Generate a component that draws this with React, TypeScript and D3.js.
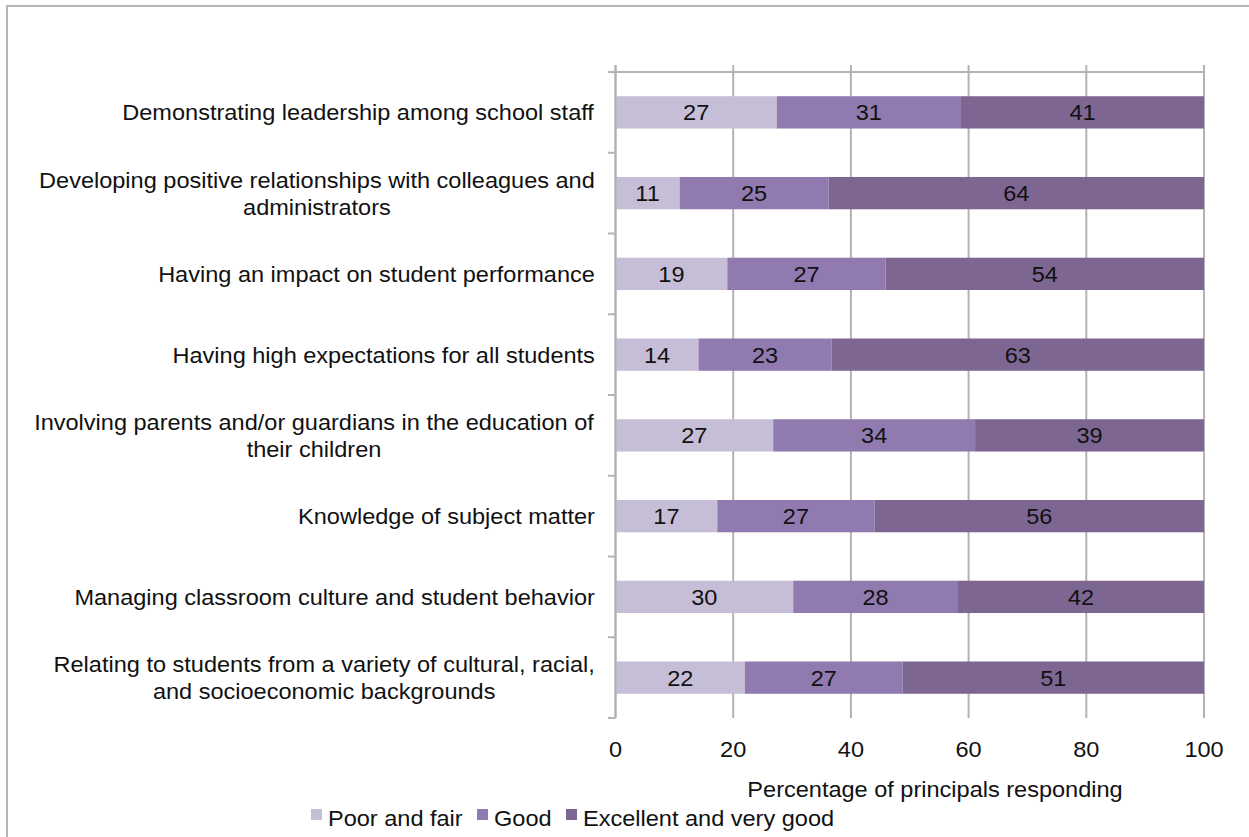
import React, { useEffect, useRef } from "react";
import * as d3 from "d3";

const categories: string[][] = [
  ["Demonstrating leadership among school staff"],
  ["Developing positive relationships with colleagues and", "administrators"],
  ["Having an impact on student performance"],
  ["Having high expectations for all students"],
  ["Involving parents and/or guardians in the education of", "their children"],
  ["Knowledge of subject matter"],
  ["Managing classroom culture and student behavior"],
  ["Relating to students from a variety of cultural, racial,", "and socioeconomic backgrounds"],
];
const poorFair = [27.4, 10.9, 19.0, 14.1, 26.8, 17.3, 30.2, 22.0];
const good = [31.3, 25.3, 26.9, 22.6, 34.3, 26.7, 28.0, 26.8];
const excellent = [41.3, 63.8, 54.1, 63.3, 38.9, 56.0, 41.8, 51.2];
const seriesNames = ["Poor and fair", "Good", "Excellent and very good"];
const seriesColors = ["#C6BED6", "#907AAF", "#7E6693"];
const xTicks = [0, 20, 40, 60, 80, 100];
const xTitle = "Percentage of principals responding";

const W = 1249;
const H = 837;
const FONT = "'Liberation Sans', Arial, sans-serif";
const SX = 1.07;

export default function App() {
  const ref = useRef<SVGSVGElement>(null);

  useEffect(() => {
    const svg = d3.select(ref.current);
    svg.selectAll("*").remove();

    const x = d3.scaleLinear().domain([0, 100]).range([615.5, 1204]);
    const y = d3
      .scaleBand<number>()
      .domain(d3.range(categories.length))
      .range([72, 718])
      .paddingInner(0.6)
      .paddingOuter(0.3);
    const step = y.step();
    const yStart = 72;

    const txt = (
      parent: any,
      tx: number,
      ty: number,
      s: string,
      anchor: string = "start"
    ) =>
      parent
        .append("text")
        .attr("transform", `translate(${tx},${ty}) scale(${SX},1)`)
        .attr("text-anchor", anchor)
        .attr("font-family", FONT)
        .attr("font-size", 22)
        .attr("fill", "#111")
        .text(s);

    // frame
    svg
      .append("path")
      .attr("d", `M7,${H} V6 H${W}`)
      .attr("fill", "none")
      .attr("stroke", "#b5b5b5")
      .attr("stroke-width", 2);

    const grid = "#b3b3b3";
    // vertical gridlines
    svg
      .append("g")
      .selectAll("line")
      .data(xTicks)
      .join("line")
      .attr("x1", (d) => x(d))
      .attr("x2", (d) => x(d))
      .attr("y1", 65)
      .attr("y2", 718)
      .attr("stroke", grid)
      .attr("stroke-width", 2);

    // top horizontal axis line
    svg
      .append("line")
      .attr("x1", 608)
      .attr("x2", x(100))
      .attr("y1", yStart)
      .attr("y2", yStart)
      .attr("stroke", grid)
      .attr("stroke-width", 2);

    // left axis ticks at category boundaries
    svg
      .append("g")
      .selectAll("line")
      .data(d3.range(categories.length + 1))
      .join("line")
      .attr("x1", 608)
      .attr("x2", x(0))
      .attr("y1", (i) => yStart + i * step)
      .attr("y2", (i) => yStart + i * step)
      .attr("stroke", grid)
      .attr("stroke-width", 2);

    // stacked bars
    const series = [poorFair, good, excellent];
    const rows = categories.map((_, i) => ({
      i,
      v: series.map((s) => s[i]),
    }));
    const stack = d3
      .stack<any, number>()
      .keys([0, 1, 2])
      .value((d, k) => d.v[k]);
    const stacked = stack(rows);

    stacked.forEach((layer, k) => {
      const g = svg.append("g");
      g.selectAll("rect")
        .data(layer)
        .join("rect")
        .attr("x", (d) => x(d[0]))
        .attr("width", (d) => x(d[1]) - x(d[0]))
        .attr("y", (d) => y(d.data.i)!)
        .attr("height", y.bandwidth())
        .attr("fill", seriesColors[k]);
      layer.forEach((d) => {
        txt(
          g,
          (x(d[0]) + x(d[1])) / 2,
          y(d.data.i)! + y.bandwidth() / 2 + 8,
          String(Math.round(d[1] - d[0])),
          "middle"
        );
      });
    });

    // left axis line
    svg
      .append("line")
      .attr("x1", x(0))
      .attr("x2", x(0))
      .attr("y1", 65)
      .attr("y2", 718)
      .attr("stroke", grid)
      .attr("stroke-width", 2);

    // category labels
    categories.forEach((lines, i) => {
      const cy = y(i)! + y.bandwidth() / 2;
      const g = svg.append("g");
      const t = g
        .append("text")
        .attr("font-family", FONT)
        .attr("font-size", 22)
        .attr("fill", "#111")
        .attr("text-anchor", "middle");
      const lh = 27;
      const first = cy - ((lines.length - 1) * lh) / 2 + 8;
      lines.forEach((ln, j) => {
        t.append("tspan")
          .attr("x", 0)
          .attr("y", first + j * lh)
          .text(ln);
      });
      const bb = (t.node() as SVGTextElement).getBBox();
      const right = (bb.x + bb.width) * SX;
      g.attr("transform", `translate(${595 - right},0) scale(${SX},1)`);
    });

    // x tick labels
    xTicks.forEach((d) => txt(svg, x(d), 757, String(d), "middle"));

    // x title
    txt(svg, 935, 797, xTitle, "middle");

    // legend
    const legX = [311, 477, 566];
    seriesNames.forEach((name, k) => {
      svg
        .append("rect")
        .attr("x", legX[k])
        .attr("y", 809)
        .attr("width", 11)
        .attr("height", 11)
        .attr("fill", seriesColors[k]);
      txt(svg, legX[k] + 17, 826, name);
    });
  }, []);

  return (
    <svg
      ref={ref}
      width={W}
      height={H}
      style={{ position: "absolute", left: 0, top: 0, background: "#fff" }}
    />
  );
}
